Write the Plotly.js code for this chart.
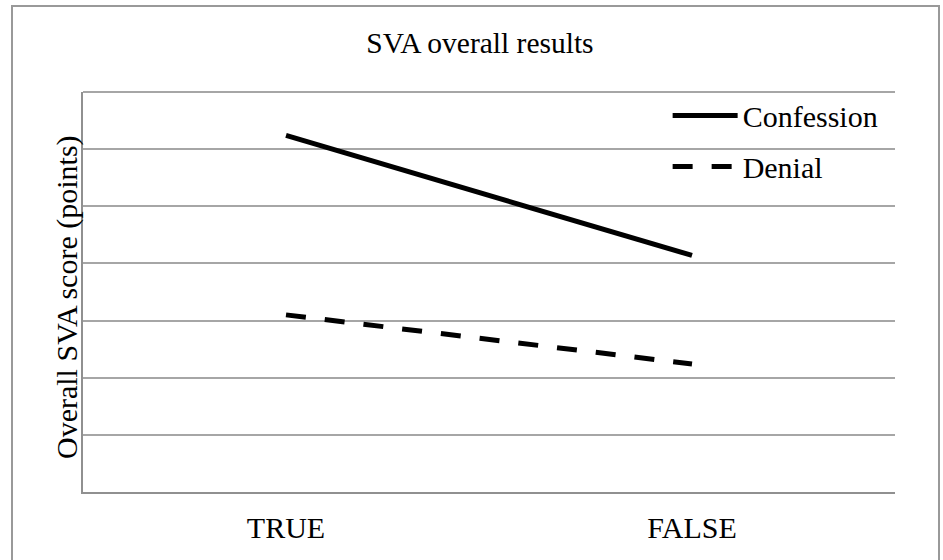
<!DOCTYPE html>
<html>
<head>
<meta charset="utf-8">
<script src="https://cdn.plot.ly/plotly-3.0.1.min.js"></script>
<style>
  html, body { margin: 0; padding: 0; background: #fff; }
  #wrap { position: relative; width: 943px; height: 560px; overflow: hidden; }
  #chart { position: absolute; left: 0; top: 0; width: 943px; height: 560px; }
  #frame { position: absolute; left: 11px; top: 5px; width: 925px; height: 600px;
           border-left: 2px solid #999; border-top: 2px solid #999; border-right: 2px solid #999;
           pointer-events: none; }
</style>
</head>
<body>
<div id="wrap">
  <div id="chart"></div>
  <div id="frame"></div>
</div>
<script>
const categories = ["TRUE", "FALSE"];
const confession = [31.2, 20.7];
const denial = [15.5, 11.2];
const seriesNames = ["Confession", "Denial"];
const chartTitle = "SVA overall results";
const yTitle = "Overall SVA score (points)";

const font = "Liberation Serif";

const traces = [
  {
    x: categories, y: confession, name: seriesNames[0], type: "scatter", mode: "lines",
    line: { color: "#000", width: 5 }, legendgroup: "a"
  },
  {
    x: categories, y: denial, name: seriesNames[1], type: "scatter", mode: "lines",
    line: { color: "#000", width: 5, dash: "20px,19px" }, legendgroup: "b"
  }
];

const layout = {
  width: 943, height: 560,
  margin: { l: 83, r: 48, t: 92, b: 68 },
  paper_bgcolor: "rgba(0,0,0,0)", plot_bgcolor: "#fff",
  font: { family: font, size: 30, color: "#000" },
  title: { text: chartTitle, font: { family: font, size: 29.5, color: "#000" },
           xref: "container", x: 0.509, xanchor: "center", yref: "container", y: 0.923, yanchor: "middle" },
  xaxis: {
    type: "category", range: [-0.5, 1.5], showgrid: false, zeroline: false, ticks: "",
    showline: true, linecolor: "#909090", linewidth: 2, ticklabelstandoff: 8,
    tickfont: { family: font, size: 30, color: "#000" }
  },
  yaxis: {
    range: [0, 35], dtick: 5, showticklabels: false, ticks: "",
    showgrid: true, gridcolor: "#a6a6a6", gridwidth: 2, zeroline: false,
    showline: true, linecolor: "#909090", linewidth: 2, mirror: false
  },
  annotations: [
    { text: yTitle, xref: "paper", yref: "paper", x: -0.0197, y: 0.4875, textangle: -90,
      xanchor: "center", yanchor: "middle", showarrow: false,
      font: { family: font, size: 30, color: "#000" } }
  ],
  showlegend: true,
  legend: {
    x: 0.72, xanchor: "left", y: 1.006, yanchor: "top", bgcolor: "rgba(0,0,0,0)",
    font: { family: font, size: 30, color: "#000" }, itemwidth: 65, tracegroupgap: 9,
    traceorder: "grouped"
  },
  shapes: [
    { type: "line", xref: "paper", yref: "paper", x0: 0, x1: 1, y0: 1, y1: 1, line: { color: "#a6a6a6", width: 2 } }
  ]
};

Plotly.newPlot("chart", traces, layout, { displayModeBar: false, staticPlot: true });
</script>
</body>
</html>
